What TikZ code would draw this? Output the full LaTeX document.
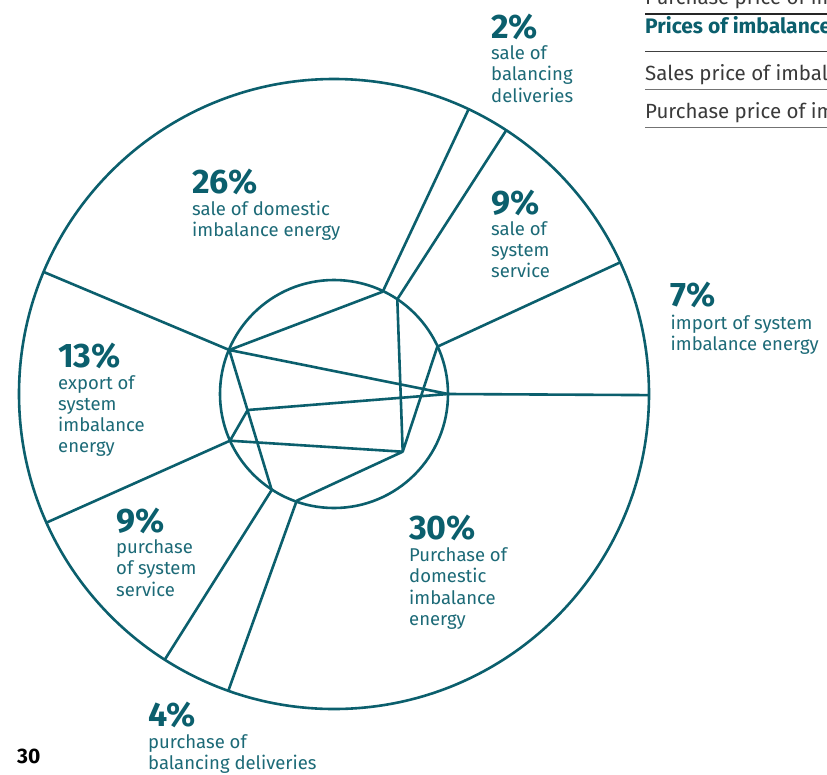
\documentclass[tikz,border=0pt]{standalone}
\usepackage{fontspec}
\setmainfont{Fira Sans}
\usetikzlibrary{calc, positioning}

\definecolor{petrol}{HTML}{0B5F6D}
\definecolor{petroltext}{HTML}{1C6A77}
\definecolor{rowgray}{HTML}{3A3A3A}

% lines of a share label, first baseline on top
\newcommand\sharelines[1]{\begin{tabular}[t]{@{}l@{}}#1\end{tabular}}

\tikzset{
  ring/.style={draw=petrol, line width=2.6pt},
  spoke/.style={draw=petrol, line width=2.6pt, line join=round},
  pct/.style={anchor=base west, inner sep=0pt, text=petrol, font=\fontsize{34}{34}\selectfont\bfseries},
  share/.style={anchor=base west, inner sep=0pt, text=petroltext, font=\fontsize{18.5}{21.3}\selectfont},
  rowtext/.style={anchor=base west, inner sep=0pt, text=rowgray, font=\fontsize{20.5}{24}\selectfont},
  rowrule/.style={line width=1.4pt}
}

\begin{document}
\begin{tikzpicture}[x=1pt, y=-1pt]
\clip (0,0) rectangle (827,774);
\fill[white] (0,0) rectangle (827,774);

% the two rings
\coordinate (o) at (334,394);
\draw[ring] (o) circle[radius=315];
\draw[ring] (o) circle[radius=114];

% points on the inner ring and inside it
\coordinate (a) at (382.7,291.7);
\coordinate (b) at (397.3,299.3);
\coordinate (c) at (437.3,346.7);
\coordinate (d) at (448.3,394);
\coordinate (e) at (229.3,350);
\coordinate (f) at (230,440.7);
\coordinate (g) at (271.7,490);
\coordinate (h) at (296.7,500.7);
\coordinate (i) at (247.7,410);
\coordinate (j) at (402.7,451.7);

% points on the outer ring
\coordinate (ao) at ($(o)+(-64.7:315)$);
\coordinate (bo) at ($(o)+(-56.85:315)$);
\coordinate (co) at ($(o)+(-24.7:315)$);
\coordinate (do) at ($(o)+(0.2:315)$);
\coordinate (eo) at ($(o)+(-157.2:315)$);
\coordinate (fo) at ($(o)+(155.9:315)$);
\coordinate (go) at ($(o)+(122.5:315)$);
\coordinate (ho) at ($(o)+(109.6:315)$);

\draw[spoke]
  (a) -- (ao)
  (b) -- (bo)
  (c) -- (co)
  (d) -- (do)
  (e) -- (eo)
  (f) -- (fo)
  (g) -- (go)
  (h) -- (ho);

\draw[spoke]
  (e) -- (a)
  (e) -- (d)
  (e) -- (g)
  (b) -- (j) -- (c)
  (i) -- (d)
  (f) -- (i)
  (f) -- (j) -- (h);

% shares
\node[pct] (p2) at (491,38) {2\%};
\node[share] (s2) at (491,59.5) {\sharelines{sale of\\balancing\\deliveries}};

\node[pct] (p26) at (192,193.5) {26\%};
\node[share] (s26) at (192,215) {\sharelines{sale of domestic\\imbalance energy}};

\node[pct] (p9a) at (491,214) {9\%};
\node[share] (s9a) at (491,235) {\sharelines{sale of\\system\\service}};

\node[pct] (p7) at (670.5,306.5) {7\%};
\node[share] (s7) at (670.5,329) {\sharelines{import of system\\imbalance energy}};

\node[pct] (p13) at (58,367.5) {13\%};
\node[share] (s13) at (58,389) {\sharelines{export of\\system\\imbalance\\energy}};

\node[pct] (p9b) at (116,532.5) {9\%};
\node[share] (s9b) at (116,553.5) {\sharelines{purchase\\of system\\service}};

\node[pct] (p30) at (409,539.5) {30\%};
\node[share] (s30) at (409,561.5) {\sharelines{Purchase of\\domestic\\imbalance\\energy}};

\node[pct] (p4) at (148,726) {4\%};
\node[share] (s4) at (148,748.5) {\sharelines{purchase of\\balancing deliveries}};

% page number
\node[anchor=base west, inner sep=0pt, font=\fontsize{21}{21}\selectfont\bfseries] (page) at (17,763) {30};

% table edge, top right
\node[rowtext] (r0) at (645,4) {Purchase price of imbalance};
\node[rowtext, text=petrol, font=\fontsize{21}{24}\selectfont\bfseries] (r1) at (645,33) {Prices of imbalance};
\node[rowtext] (r2) at (645,80.5) {Sales price of imbalance};
\node[rowtext] (r3) at (645,118) {Purchase price of imbalance};
\draw[rowrule, draw=black!85] (645,14) -- (827,14);
\draw[rowrule, draw=black!75] (645,51.7) -- (827,51.7);
\draw[rowrule, draw=black!55] (645,89.3) -- (827,89.3);
\draw[rowrule, draw=black!55] (645,127.3) -- (827,127.3);
\end{tikzpicture}
\end{document}
